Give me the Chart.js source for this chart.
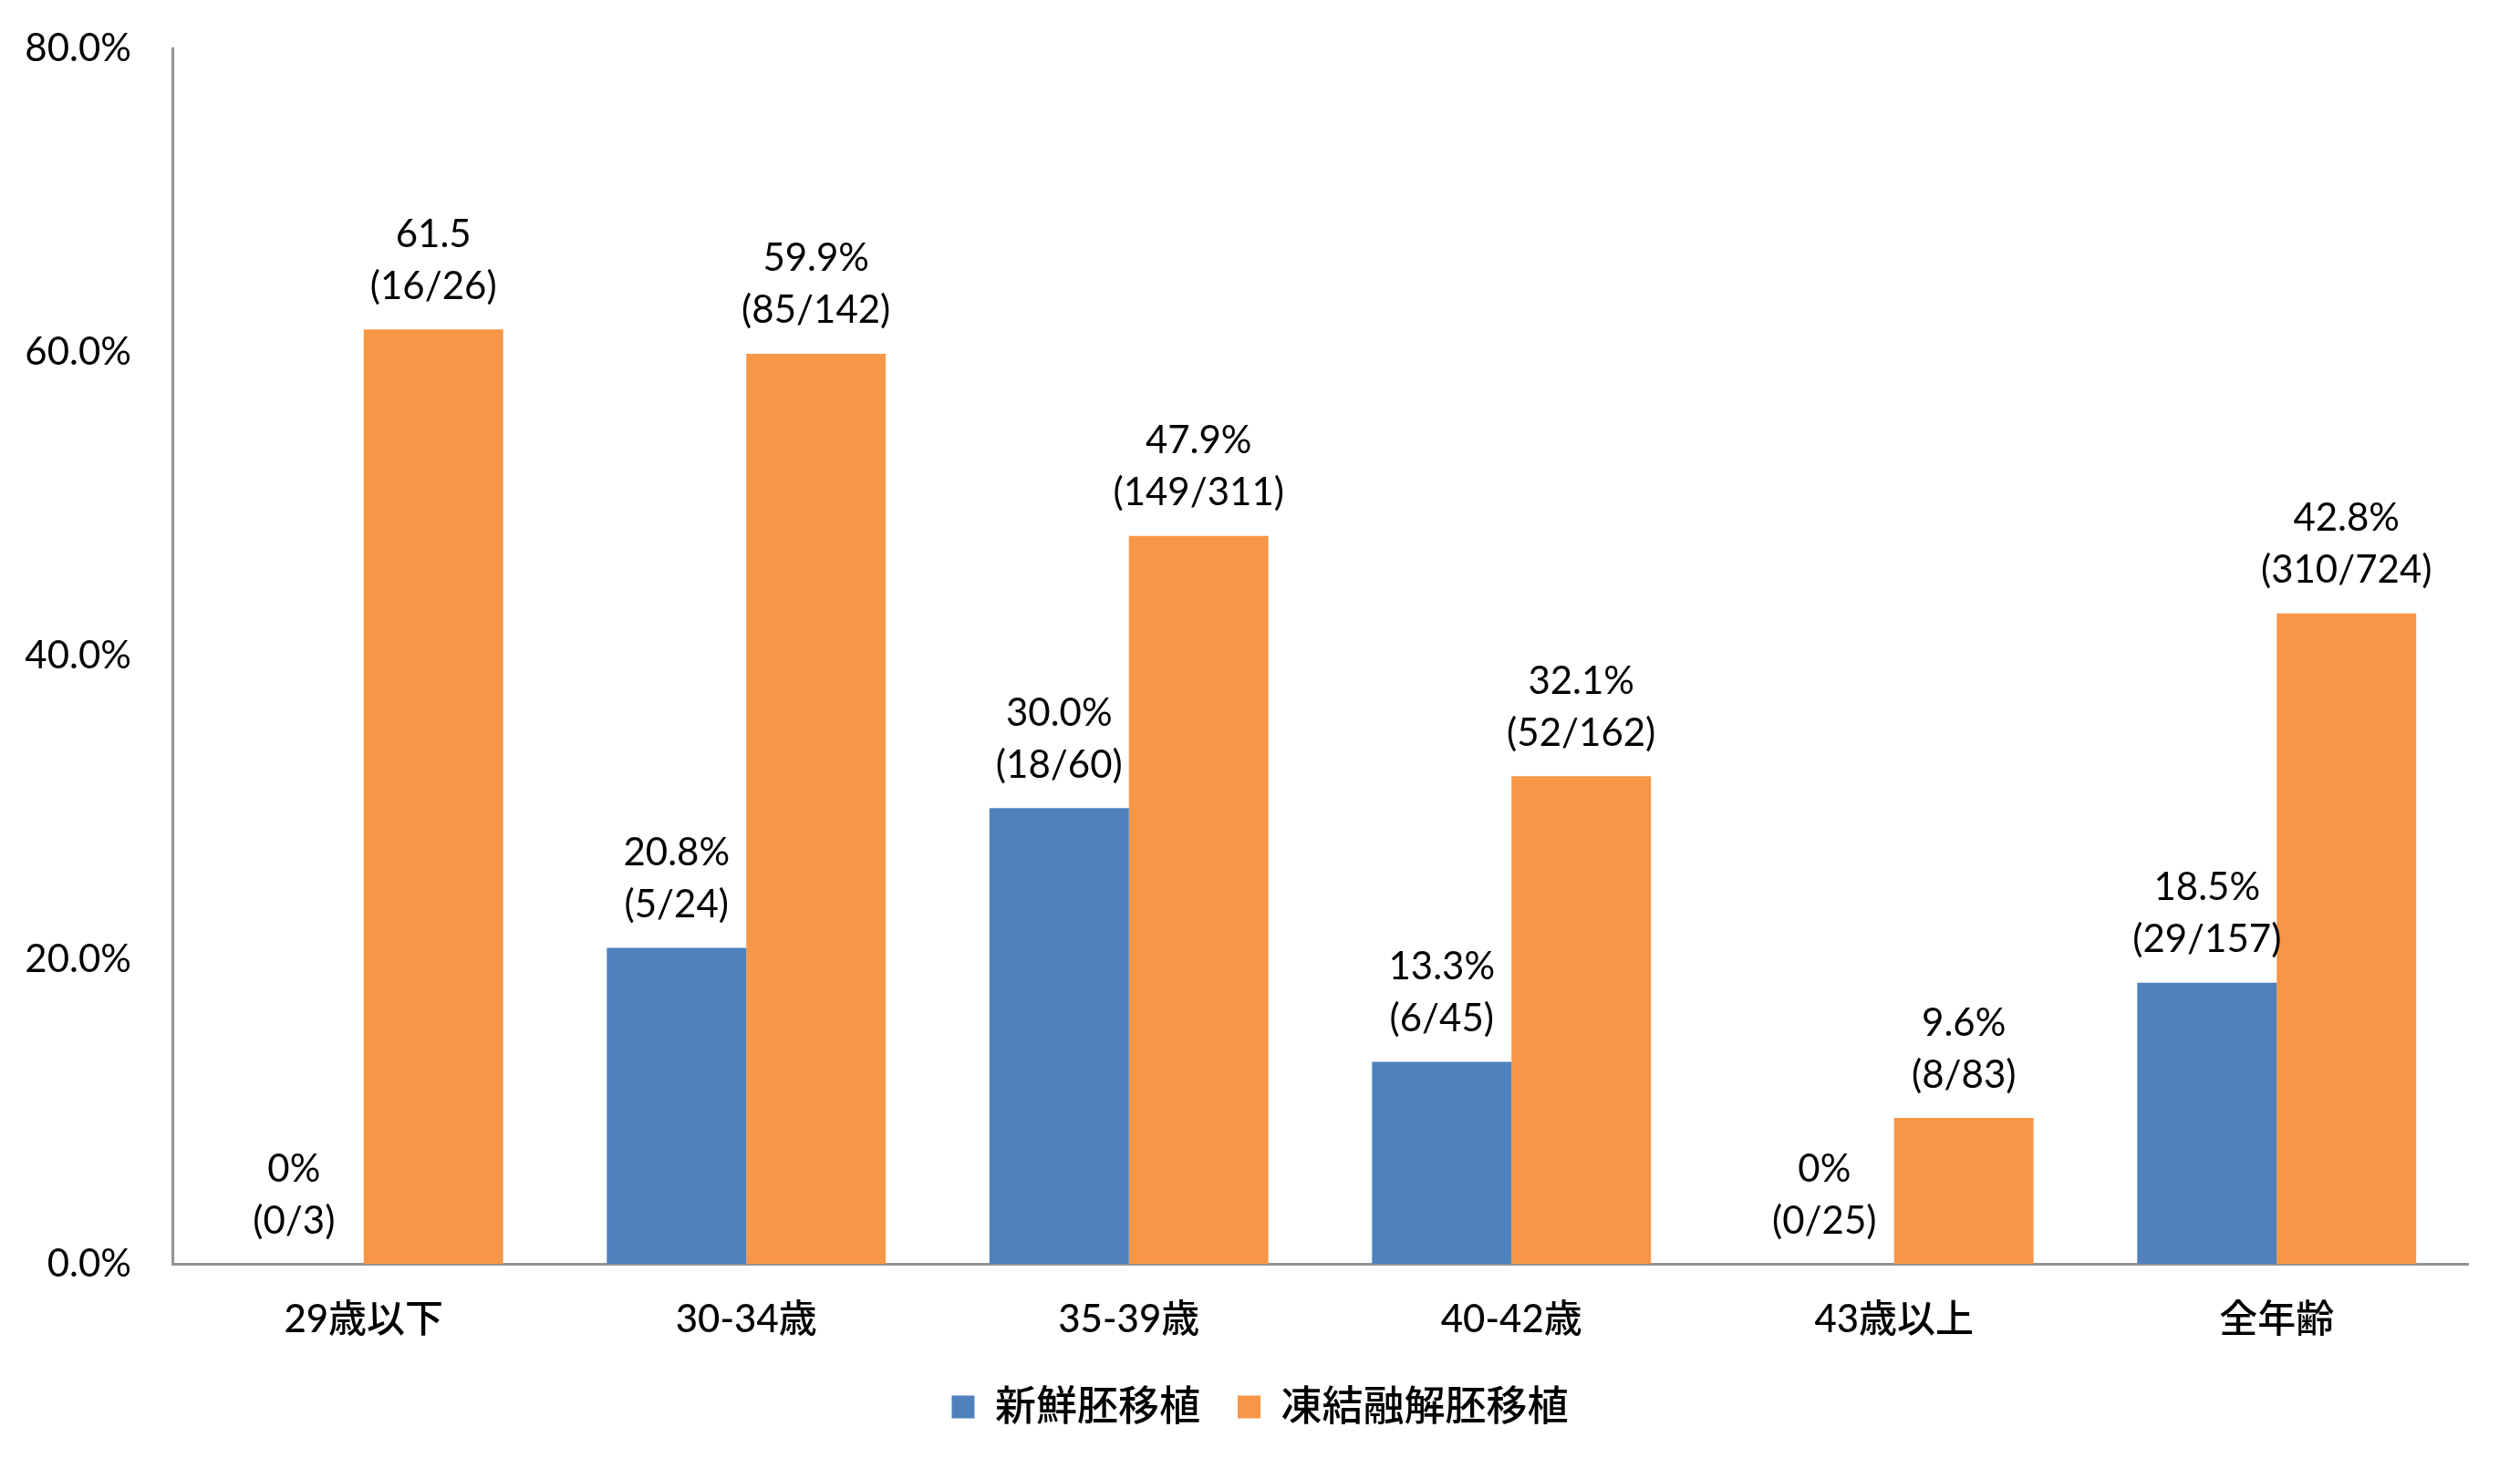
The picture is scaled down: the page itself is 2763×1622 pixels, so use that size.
<!DOCTYPE html>
<html>
<head>
<meta charset="utf-8">
<script src="https://cdn.jsdelivr.net/npm/chart.js@4/dist/chart.umd.min.js"></script>
<style>
  html, body { margin: 0; padding: 0; background: #ffffff; }
  #wrap { width: 2763px; height: 1622px; }
</style>
</head>
<body>
<div id="wrap"><canvas id="c" width="2763" height="1622" style="width:2763px;height:1622px"></canvas></div>
<script>
const categories = ['29歳以下', '30-34歳', '35-39歳', '40-42歳', '43歳以上', '全年齢'];
const seriesNames = ['新鮮胚移植', '凍結融解胚移植'];
const freshValues = [0, 20.8, 30.0, 13.3, 0, 18.5];
const frozenValues = [61.5, 59.9, 47.9, 32.1, 9.6, 42.8];
const freshPctLabels = ['0%', '20.8%', '30.0%', '13.3%', '0%', '18.5%'];
const freshFracLabels = ['(0/3)', '(5/24)', '(18/60)', '(6/45)', '(0/25)', '(29/157)'];
const frozenPctLabels = ['61.5', '59.9%', '47.9%', '32.1%', '9.6%', '42.8%'];
const frozenFracLabels = ['(16/26)', '(85/142)', '(149/311)', '(52/162)', '(8/83)', '(310/724)'];
const yTicks = [0, 20, 40, 60, 80];

const FONT = "Lato, 'Noto Sans CJK JP', sans-serif";
const AXIS_GRAY = '#959595';

const labelPlugin = {
  id: 'barLabels',
  afterDatasetsDraw(chart) {
    const ctx = chart.ctx;
    const sets = [[freshPctLabels, freshFracLabels], [frozenPctLabels, frozenFracLabels]];
    ctx.save();
    ctx.font = '42px ' + FONT;
    ctx.fillStyle = '#000000';
    ctx.textAlign = 'center';
    ctx.textBaseline = 'middle';
    chart.data.datasets.forEach((ds, di) => {
      const meta = chart.getDatasetMeta(di);
      meta.data.forEach((bar, i) => {
        ctx.fillText(sets[di][1][i], bar.x, bar.y - 47);
        ctx.fillText(sets[di][0][i], bar.x, bar.y - 104);
      });
    });
    ctx.restore();
  }
};

new Chart(document.getElementById('c'), {
  type: 'bar',
  data: {
    labels: categories,
    datasets: [
      { label: seriesNames[0], data: freshValues, backgroundColor: '#4F81BD', borderWidth: 0 },
      { label: seriesNames[1], data: frozenValues, backgroundColor: '#F79646', borderWidth: 0 }
    ]
  },
  options: {
    responsive: false,
    devicePixelRatio: 1,
    animation: false,
    categoryPercentage: 0.729,
    barPercentage: 1.0,
    layout: { padding: { left: 0, right: 0, top: 53, bottom: 46.5 } },
    plugins: {
      tooltip: { enabled: false },
      legend: {
        position: 'bottom',
        labels: {
          boxWidth: 25,
          boxHeight: 25,
          padding: 41,
          color: '#000000',
          font: { family: FONT, size: 45, weight: '500' }
        }
      }
    },
    scales: {
      x: {
        grid: { display: false, drawTicks: false },
        border: { display: true, color: AXIS_GRAY, width: 3 },
        ticks: {
          color: '#000000',
          font: { family: FONT, size: 42, weight: '500' },
          padding: 36,
          maxRotation: 0,
          autoSkip: false
        },
        afterFit(scale) { scale.height = 93.5; }
      },
      y: {
        min: 0,
        max: 80,
        grid: { display: false, drawTicks: false },
        border: { display: true, color: AXIS_GRAY, width: 3 },
        afterBuildTicks(scale) { scale.ticks = yTicks.map(v => ({ value: v })); },
        ticks: {
          color: '#000000',
          font: { family: FONT, size: 42 },
          padding: 45,
          callback: (v) => v.toFixed(1) + '%'
        },
        afterFit(scale) {
          scale.width = 189;
          scale.paddingTop = 30;
          scale.paddingBottom = 30;
        }
      },
      yRight: {
        position: 'right',
        display: true,
        min: 0,
        max: 80,
        grid: { display: false, drawTicks: false },
        border: { display: false },
        ticks: { display: false },
        afterFit(scale) { scale.width = 57; }
      }
    }
  },
  plugins: [labelPlugin]
});
</script>
</body>
</html>
